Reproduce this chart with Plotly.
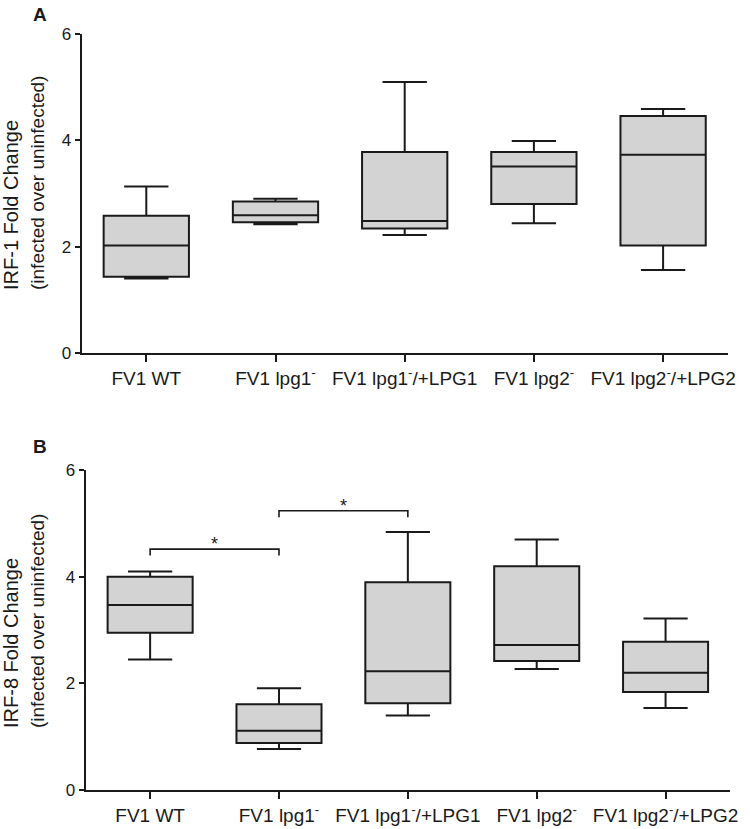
import plotly.graph_objects as go

# ---------------- data ----------------
categories = [
    "FV1 WT",
    "FV1 lpg1<sup>-</sup>",
    "FV1 lpg1<sup>-</sup>/+LPG1",
    "FV1 lpg2<sup>-</sup>",
    "FV1 lpg2<sup>-</sup>/+LPG2",
]

# Panel A: IRF-1 fold change
irf1_lower = [1.40, 2.42, 2.22, 2.44, 1.56]
irf1_q1 = [1.43, 2.46, 2.34, 2.80, 2.02]
irf1_median = [2.02, 2.59, 2.48, 3.51, 3.73]
irf1_q3 = [2.58, 2.85, 3.78, 3.78, 4.46]
irf1_upper = [3.13, 2.90, 5.10, 3.99, 4.59]

# Panel B: IRF-8 fold change
irf8_lower = [2.45, 0.77, 1.40, 2.27, 1.54]
irf8_q1 = [2.95, 0.88, 1.63, 2.42, 1.84]
irf8_median = [3.47, 1.11, 2.23, 2.72, 2.20]
irf8_q3 = [4.00, 1.61, 3.90, 4.20, 2.78]
irf8_upper = [4.10, 1.91, 4.84, 4.70, 3.22]

y_ticks = [0, 2, 4, 6]

# significance comparisons in panel B: (group a, group b, bar height, label)
irf8_comparisons = [(0, 1, 4.52, "*"), (1, 2, 5.24, "*")]

# ---------------- style ----------------
W, H = 750, 829
FONT = "Liberation Sans, Arial, sans-serif"
INK = "#1a1a1a"
FILL = "#d3d3d3"


def fx(px):
    return px / W


def fy(px):
    return 1 - px / H


fig = go.Figure()


def add_boxes(lower, q1, med, q3, upper, xa, ya):
    fig.add_trace(go.Box(
        x=categories, lowerfence=lower, q1=q1, median=med, q3=q3, upperfence=upper,
        fillcolor=FILL, line=dict(color=INK, width=2),
        width=0.66, whiskerwidth=0.52, boxpoints=False,
        xaxis=xa, yaxis=ya, showlegend=False, hoverinfo="skip",
    ))


add_boxes(irf1_lower, irf1_q1, irf1_median, irf1_q3, irf1_upper, "x", "y")
add_boxes(irf8_lower, irf8_q1, irf8_median, irf8_q3, irf8_upper, "x2", "y2")

drop = 0.12
annotations = []
for a, b, h, lab in irf8_comparisons:
    fig.add_trace(go.Scatter(
        x=[categories[a], categories[a], categories[b], categories[b]],
        y=[h - drop, h, h, h - drop],
        mode="lines", line=dict(color=INK, width=1.6),
        xaxis="x2", yaxis="y2", showlegend=False, hoverinfo="skip",
    ))
    annotations.append(dict(
        x=(a + b) / 2, y=h, xref="x2", yref="y2", text=lab, showarrow=False,
        yanchor="bottom", yshift=-7, font=dict(family=FONT, size=18, color=INK),
    ))


def ytitle(gene):
    return ('<span style="font-size:20px">' + gene + " Fold Change</span><br>"
            '<span style="font-size:19px">(infected over uninfected)</span>')


# y titles and panel letters
annotations += [
    dict(x=fx(24), y=fy(183), xref="paper", yref="paper",
         text=ytitle("IRF-1"), textangle=-90, align="left",
         showarrow=False, xanchor="center", yanchor="middle",
         font=dict(family=FONT, size=20, color=INK)),
    dict(x=fx(24), y=fy(621), xref="paper", yref="paper",
         text=ytitle("IRF-8"), textangle=-90, align="left",
         showarrow=False, xanchor="center", yanchor="middle",
         font=dict(family=FONT, size=20, color=INK)),
    dict(x=fx(40), y=fy(15), xref="paper", yref="paper", text="<b>A</b>",
         showarrow=False, xanchor="center", yanchor="middle",
         font=dict(family=FONT, size=19, color=INK)),
    dict(x=fx(40), y=fy(446), xref="paper", yref="paper", text="<b>B</b>",
         showarrow=False, xanchor="center", yanchor="middle",
         font=dict(family=FONT, size=19, color=INK)),
]

xaxis_common = dict(
    type="category", range=[-0.5, 4.5], showline=True, linecolor=INK, linewidth=2,
    ticks="outside", ticklen=7, tickwidth=2, tickcolor=INK, showgrid=False, zeroline=False,
    tickfont=dict(family=FONT, size=19, color=INK), fixedrange=True,
)
yaxis_common = dict(
    range=[0, 6], tickvals=y_ticks, showline=True, linecolor=INK, linewidth=2,
    ticks="outside", ticklen=5, tickwidth=2, tickcolor=INK, showgrid=False, zeroline=False,
    tickfont=dict(family=FONT, size=17, color=INK), fixedrange=True,
)

fig.update_layout(
    width=W, height=H,
    margin=dict(l=0, r=0, t=0, b=0, autoexpand=False),
    paper_bgcolor="white", plot_bgcolor="white",
    font=dict(family=FONT, color=INK),
    xaxis=dict(domain=[fx(81.7), fx(727.7)], anchor="y", **xaxis_common),
    yaxis=dict(domain=[fy(352.7), fy(34.3)], anchor="x", **yaxis_common),
    xaxis2=dict(domain=[fx(85.7), fx(730)], anchor="y2", **xaxis_common),
    yaxis2=dict(domain=[fy(790), fy(470.3)], anchor="x2", **yaxis_common),
    annotations=annotations,
    showlegend=False,
)

fig.write_html(
    "out.html",
    config={"displayModeBar": False},
    post_script="document.body.style.margin='0';document.body.style.padding='0';",
)
